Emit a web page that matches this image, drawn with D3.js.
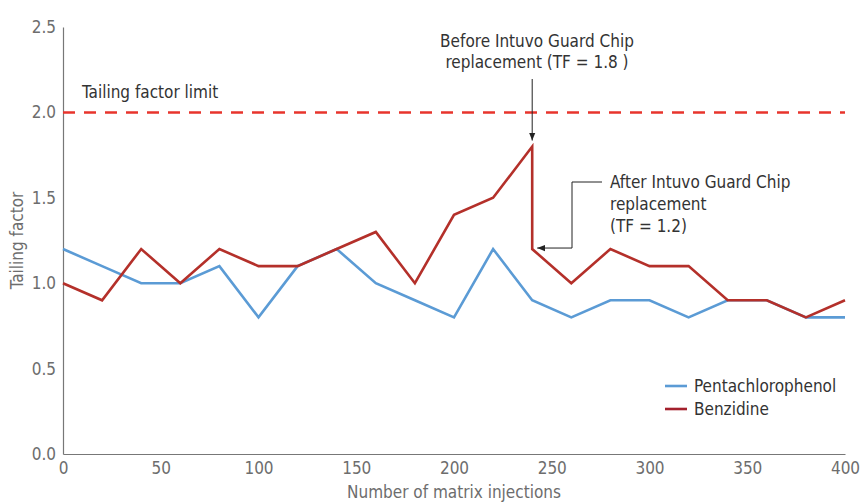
<!DOCTYPE html>
<html>
<head>
<meta charset="utf-8">
<script src="https://cdn.jsdelivr.net/npm/d3@7"></script>
<style>
  body { margin: 0; background: #fff; }
  text { font-family: "Liberation Sans Narrow", "DejaVu Sans Condensed", "Roboto", sans-serif; font-stretch: condensed; }
</style>
</head>
<body>
<div id="chart"></div>
<script>
const injections = [0, 20, 40, 60, 80, 100, 120, 140, 160, 180, 200, 220, 240, 260, 280, 300, 320, 340, 360, 380, 400];
const pentachlorophenol = [1.2, 1.1, 1.0, 1.0, 1.1, 0.8, 1.1, 1.2, 1.0, 0.9, 0.8, 1.2, 0.9, 0.8, 0.9, 0.9, 0.8, 0.9, 0.9, 0.8, 0.8];
// benzidine has two readings at 240 (before / after chip replacement)
const benzidineX = [0, 20, 40, 60, 80, 100, 120, 140, 160, 180, 200, 220, 240, 240, 260, 280, 300, 320, 340, 360, 380, 400];
const benzidine = [1.0, 0.9, 1.2, 1.0, 1.2, 1.1, 1.1, 1.2, 1.3, 1.0, 1.4, 1.5, 1.8, 1.2, 1.0, 1.2, 1.1, 1.1, 0.9, 0.9, 0.8, 0.9];
const xTicks = [0, 50, 100, 150, 200, 250, 300, 350, 400];
const yTicks = [0, 0.5, 1.0, 1.5, 2.0, 2.5];
const limit = 2.0;

const width = 866, height = 502;
const svg = d3.select('#chart').append('svg')
  .attr('width', width)
  .attr('height', height);

const x = d3.scaleLinear().domain([0, 400]).range([63, 845]);
const y = d3.scaleLinear().domain([0, 2.5]).range([454, 27]);

const grey = '#6d6d6d';

// axes
const xAxis = svg.append('g')
  .attr('transform', `translate(0,${y(0)})`)
  .call(d3.axisBottom(x).tickValues(xTicks).tickSize(0).tickPadding(8).tickFormat(d3.format('d')));
const yAxis = svg.append('g')
  .attr('transform', `translate(${x(0)},0)`)
  .call(d3.axisLeft(y).tickValues(yTicks).tickSize(0).tickPadding(7).tickFormat(d3.format('.1f')));

[xAxis, yAxis].forEach(a => {
  a.select('.domain').attr('stroke', '#777').attr('stroke-width', 1.2);
  a.selectAll('text').attr('fill', grey).style('font-size', '17px');
});

svg.append('text')
  .attr('x', x(200)).attr('y', 498)
  .attr('text-anchor', 'middle')
  .attr('fill', grey).style('font-size', '17px')
  .text('Number of matrix injections');

svg.append('text')
  .attr('transform', `translate(23,${(y(0) + y(2.5)) / 2}) rotate(-90)`)
  .attr('text-anchor', 'middle')
  .attr('fill', grey).style('font-size', '17px')
  .text('Tailing factor');

// limit line
svg.append('line')
  .attr('x1', x(0)).attr('x2', x(400))
  .attr('y1', y(limit)).attr('y2', y(limit))
  .attr('stroke', '#e8342c')
  .attr('stroke-width', 2.5)
  .attr('stroke-dasharray', '12,9');

svg.append('text')
  .attr('x', 82).attr('y', 98)
  .attr('fill', '#333').style('font-size', '17px')
  .text('Tailing factor limit');

// series
const line = d3.line().x(d => x(d[0])).y(d => y(d[1]));

svg.append('path')
  .datum(injections.map((d, i) => [d, pentachlorophenol[i]]))
  .attr('d', line)
  .attr('fill', 'none')
  .attr('stroke', '#5b9bd5')
  .attr('stroke-width', 2.6);

svg.append('path')
  .datum(benzidineX.map((d, i) => [d, benzidine[i]]))
  .attr('d', line)
  .attr('fill', 'none')
  .attr('stroke', '#b4302a')
  .attr('stroke-width', 2.6);

// annotations
svg.append('defs').append('marker')
  .attr('id', 'arrow')
  .attr('viewBox', '0 0 10 10')
  .attr('refX', 10).attr('refY', 5)
  .attr('markerWidth', 8).attr('markerHeight', 8)
  .attr('markerUnits', 'userSpaceOnUse')
  .attr('orient', 'auto')
  .append('path')
  .attr('d', 'M0,1 L10,5 L0,9 z')
  .attr('fill', '#222');

const before = svg.append('text')
  .attr('text-anchor', 'middle')
  .attr('fill', '#333').style('font-size', '17px');
before.append('tspan').attr('x', 537).attr('y', 47).text('Before Intuvo Guard Chip');
before.append('tspan').attr('x', 537).attr('y', 68).text('replacement (TF = 1.8 )');

svg.append('line')
  .attr('x1', x(240)).attr('x2', x(240))
  .attr('y1', 79).attr('y2', y(1.8) - 6)
  .attr('stroke', '#222').attr('stroke-width', 1)
  .attr('marker-end', 'url(#arrow)');

const after = svg.append('text')
  .attr('fill', '#333').style('font-size', '17px');
after.append('tspan').attr('x', 610).attr('y', 188).text('After Intuvo Guard Chip');
after.append('tspan').attr('x', 610).attr('y', 210).text('replacement');
after.append('tspan').attr('x', 610).attr('y', 232).text('(TF = 1.2)');

svg.append('path')
  .attr('d', `M602,182 H572 V${y(1.2) - 1} H${x(240) + 5}`)
  .attr('fill', 'none')
  .attr('stroke', '#222').attr('stroke-width', 1)
  .attr('marker-end', 'url(#arrow)');

// legend
const legend = svg.append('g').attr('transform', 'translate(665,386)');
[['Pentachlorophenol', '#5b9bd5'], ['Benzidine', '#a3202c']].forEach((d, i) => {
  legend.append('line')
    .attr('x1', 0).attr('x2', 22)
    .attr('y1', i * 23).attr('y2', i * 23)
    .attr('stroke', d[1]).attr('stroke-width', 2.6);
  legend.append('text')
    .attr('x', 29).attr('y', i * 23 + 6)
    .attr('fill', '#333').style('font-size', '17px')
    .text(d[0]);
});
</script>
</body>
</html>
